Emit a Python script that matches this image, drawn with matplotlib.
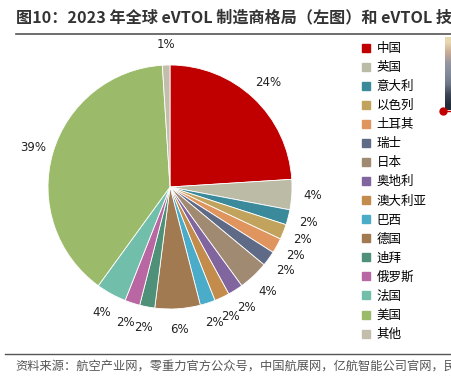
import matplotlib.pyplot as plt
import numpy as np
from matplotlib.lines import Line2D

plt.rcParams['font.family'] = ['Noto Sans CJK SC', 'DejaVu Sans']

# data
countries = ['中国', '英国', '意大利', '以色列', '土耳其', '瑞士', '日本', '奥地利',
             '澳大利亚', '巴西', '德国', '迪拜', '俄罗斯', '法国', '美国', '其他']
shares = [24, 4, 2, 2, 2, 2, 4, 2, 2, 2, 6, 2, 2, 4, 39, 1]
colors = ['#C00000', '#BBBBA6', '#3B8A9B', '#C2A35E', '#E0945E', '#5F6B86',
          '#A18A72', '#80659F', '#C38C4C', '#4AACC8', '#A17A52', '#4F9079',
          '#B967A2', '#71BEAB', '#9BBB6B', '#C3BDAB']

W, H = 451, 382
fig = plt.figure(figsize=(W / 100, H / 100), dpi=100)

# pie: centre (170, 187) px, radius 122 px
R = 122
lim = 1.3
side = 2 * lim * R
ax = fig.add_axes([(170 - side / 2) / W, (H - 187 - side / 2) / H, side / W, side / H])
ax.pie(shares, colors=colors, startangle=90, counterclock=False, radius=1,
       autopct='%.0f%%', pctdistance=1.17,
       wedgeprops=dict(edgecolor='white', linewidth=0.6),
       textprops=dict(fontsize=8.5, color='#222222', family=['DejaVu Sans']))
ax.set_xlim(-lim, lim)
ax.set_ylim(-lim, lim)
ax.set_aspect('equal')
ax.axis('off')

# legend
handles = [Line2D([], [], marker='s', linestyle='', markersize=6,
                  markerfacecolor=c, markeredgecolor=c) for c in colors]
fig.legend(handles, countries, loc='upper left', bbox_to_anchor=(356 / W, 1 - 37 / H),
           frameon=False, fontsize=9, handlelength=0.8, handletextpad=0.45,
           labelspacing=0.485, borderaxespad=0)

# title and lines
fig.text(16 / W, 1 - 17 / H, '图10：2023 年全球 eVTOL 制造商格局（左图）和 eVTOL 技术路线',
         fontsize=11.6, fontweight='bold', color='#333333', va='center', ha='left')
fig.add_artist(Line2D([16 / W, 1], [1 - 33.5 / H] * 2, color='#555555', lw=1.2))
fig.add_artist(Line2D([5 / W, 1], [1 - 353.5 / H] * 2, color='#555555', lw=1.0))
fig.text(15 / W, 1 - 367 / H,
         '资料来源：航空产业网，零重力官方公众号，中国航展网，亿航智能公司官网，民生证券研究院',
         fontsize=8.8, color='#555555', va='center', ha='left')

# bit of the neighbouring photo at the right edge
pax = fig.add_axes([445 / W, 1 - 110 / H, 6 / W, 73 / H])
photo = np.array([[[232, 216, 176]], [[200, 170, 150]], [[150, 150, 160]],
                  [[130, 140, 155]], [[110, 120, 135]], [[60, 70, 85]],
                  [[35, 45, 58]]], dtype=float) / 255
pax.imshow(photo, aspect='auto', interpolation='bilinear')
pax.axis('off')
fig.add_artist(Line2D([443 / W], [1 - 111 / H], marker='o', markersize=5,
                      color='#C00000', linestyle=''))
fig.add_artist(Line2D([443 / W, 1], [1 - 111 / H] * 2, color='#C00000', lw=1))

fig.savefig('out.png', dpi=100)
